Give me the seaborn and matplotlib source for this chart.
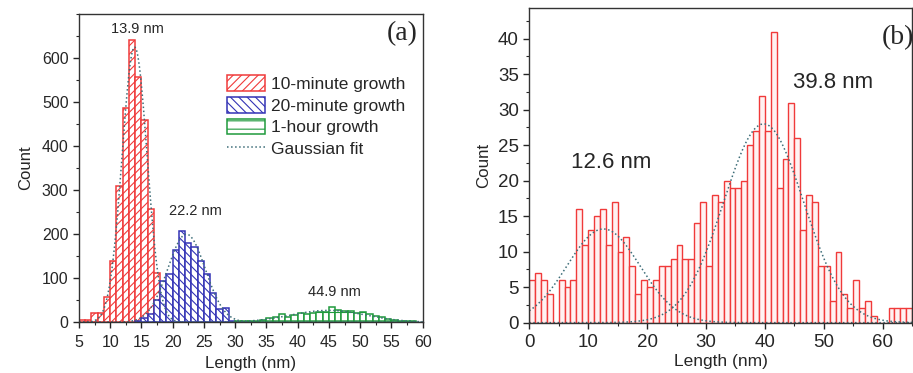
import matplotlib
matplotlib.use('Agg')
import numpy as np
import pandas as pd
import matplotlib.pyplot as plt
import seaborn as sns
from matplotlib.patches import Patch
from matplotlib.lines import Line2D
from matplotlib.ticker import MultipleLocator

# ---- panel (a): counts per 1 nm bin, bins start at the listed edge ----
red_edges = list(range(5, 22))
red_counts = [5, 5, 22, 20, 58, 138, 309, 487, 642, 556, 460, 258, 111, 42, 20, 8, 3]
blue_edges = list(range(14, 30))
blue_counts = [4, 9, 18, 50, 94, 109, 164, 207, 179, 172, 139, 109, 66, 30, 33, 4]
green_edges = list(range(30, 59))
green_counts = [2, 2, 3, 4, 6, 10, 12, 18, 13, 16, 20, 19, 22, 23, 24, 35,
                29, 26, 25, 22, 24, 18, 15, 11, 8, 5, 3, 4, 2]
series_labels = ["10-minute growth", "20-minute growth", "1-hour growth"]

# gaussian fits (centre, height, width)
fit_a_center = [13.9, 22.2, 44.9]
fit_a_height = [625, 200, 27]
fit_a_sigma = [2.0, 3.0, 6.0]
peak_a_text = ["13.9 nm", "22.2 nm", "44.9 nm"]
peak_a_xy = [(14.3, 665), (23.7, 253), (45.8, 68)]

# ---- panel (b) ----
b_edges = list(range(0, 65))
b_counts = [6, 7, 6, 4, 0, 6, 5, 6, 16, 11, 13, 15, 16, 11, 17, 10, 12, 8, 4, 6,
            5, 6, 8, 8, 9, 11, 9, 9, 14, 17, 8, 18, 17, 20, 19, 19, 20, 25, 27, 32,
            27, 41, 19, 23, 31, 26, 13, 18, 17, 8, 8, 3, 10, 4, 2, 6, 2, 3, 1, 0,
            0, 2, 2, 2, 2]
fit_b_center = [12.6, 39.8]
fit_b_height = [13.2, 28.0]
fit_b_sigma = [6.2, 6.8]
peak_b_text = ["12.6 nm", "39.8 nm"]
peak_b_xy = [(13.9, 22.6), (51.5, 33.8)]

RED = "#f03a3a"
BLUE = "#3333b5"
GREEN = "#1f9a3c"
FIT = "#3d6d78"

sns.set_style("ticks")
plt.rcParams['font.family'] = ['Liberation Sans', 'DejaVu Sans']
plt.rcParams['hatch.linewidth'] = 0.8
plt.rcParams['xtick.direction'] = 'out'
plt.rcParams['ytick.direction'] = 'out'

fig = plt.figure(figsize=(9.13, 3.73), dpi=100)
ax1 = fig.add_axes([0.0865, 0.136, 0.3765, 0.8265])
ax2 = fig.add_axes([0.5797, 0.135, 0.4193, 0.843])


def hist_from_counts(ax, edges, counts, color, hatch, face="white", lw=1.1):
    df = pd.DataFrame({"x": np.array(edges) + 0.5, "w": counts})
    bins = list(edges) + [edges[-1] + 1]
    sns.histplot(data=df, x="x", weights="w", bins=bins, ax=ax,
                 facecolor=face, edgecolor=color, linewidth=lw,
                 hatch=hatch, alpha=1.0)


def gauss_line(ax, xmin, xmax, c, h, s):
    xs = np.linspace(xmin, xmax, 400)
    df = pd.DataFrame({"x": xs, "y": h * np.exp(-(xs - c) ** 2 / (2 * s ** 2))})
    sns.lineplot(data=df, x="x", y="y", ax=ax, color=FIT, linestyle=":",
                 linewidth=1.1)


# panel (a)
hist_from_counts(ax1, red_edges, red_counts, RED, "////")
hist_from_counts(ax1, blue_edges, blue_counts, BLUE, "\\\\\\\\")
hist_from_counts(ax1, green_edges, green_counts, GREEN, "--")
for c, h, s in zip(fit_a_center, fit_a_height, fit_a_sigma):
    gauss_line(ax1, 5, 60, c, h, s)
for t, (x, y) in zip(peak_a_text, peak_a_xy):
    ax1.text(x, y, t, ha="center", va="center", fontsize=10.5)

ax1.set_xlim(5, 60)
ax1.set_ylim(0, 700)
ax1.xaxis.set_major_locator(MultipleLocator(5))
ax1.xaxis.set_minor_locator(MultipleLocator(2.5))
ax1.set_yticks([0, 100, 200, 300, 400, 500, 600])
ax1.yaxis.set_minor_locator(MultipleLocator(50))
ax1.tick_params(which="major", labelsize=11.5)
ax1.set_xlabel("Length (nm)", fontsize=12.2, labelpad=4)
ax1.set_ylabel("Count", fontsize=12, labelpad=6)
ax1.text(0.985, 0.935, "(a)", transform=ax1.transAxes, ha="right", va="center",
         fontsize=20, family=['Liberation Serif', 'DejaVu Serif'])

handles = [Patch(facecolor="white", edgecolor=RED, hatch="////", linewidth=1.1),
           Patch(facecolor="white", edgecolor=BLUE, hatch="\\\\\\\\", linewidth=1.1),
           Patch(facecolor="white", edgecolor=GREEN, hatch="--", linewidth=1.1),
           Line2D([], [], color=FIT, linestyle=":", linewidth=1.1)]
ax1.legend(handles, series_labels + ["Gaussian fit"], loc="upper left",
           bbox_to_anchor=(0.41, 0.823), frameon=False, fontsize=12.5,
           handlelength=2.2, handleheight=1.0, handletextpad=0.35,
           labelspacing=0.28, borderaxespad=0)

# panel (b)
hist_from_counts(ax2, b_edges, b_counts, RED, None, face="#fff2f2", lw=1.0)
for c, h, s in zip(fit_b_center, fit_b_height, fit_b_sigma):
    gauss_line(ax2, 0, 65, c, h, s)
for t, (x, y) in zip(peak_b_text, peak_b_xy):
    ax2.text(x, y, t, ha="center", va="center", fontsize=16)

ax2.set_xlim(0, 65)
ax2.set_ylim(0, 44.3)
ax2.xaxis.set_major_locator(MultipleLocator(10))
ax2.xaxis.set_minor_locator(MultipleLocator(5))
ax2.yaxis.set_major_locator(MultipleLocator(5))
ax2.yaxis.set_minor_locator(MultipleLocator(2.5))
ax2.tick_params(which="major", labelsize=13.5)
ax2.set_xlabel("Length (nm)", fontsize=12.5, labelpad=2)
ax2.set_ylabel("Count", fontsize=12.2, labelpad=5)
ax2.text(1.005, 0.905, "(b)", transform=ax2.transAxes, ha="right", va="center",
         fontsize=20, family=['Liberation Serif', 'DejaVu Serif'])

for ax in (ax1, ax2):
    for sp in ax.spines.values():
        sp.set_visible(True)
        sp.set_linewidth(1.0)
        sp.set_color("#333333")
    ax.tick_params(which="major", length=4.5, width=1)
    ax.tick_params(which="minor", length=2.5, width=0.8)
ax1.tick_params(axis="x", which="major", pad=5)
ax2.tick_params(axis="x", which="major", pad=4)
ax1.tick_params(axis="y", which="major", pad=3)
ax2.tick_params(axis="y", which="major", pad=3)

fig.savefig("out.png", dpi=100)
plt.close()
